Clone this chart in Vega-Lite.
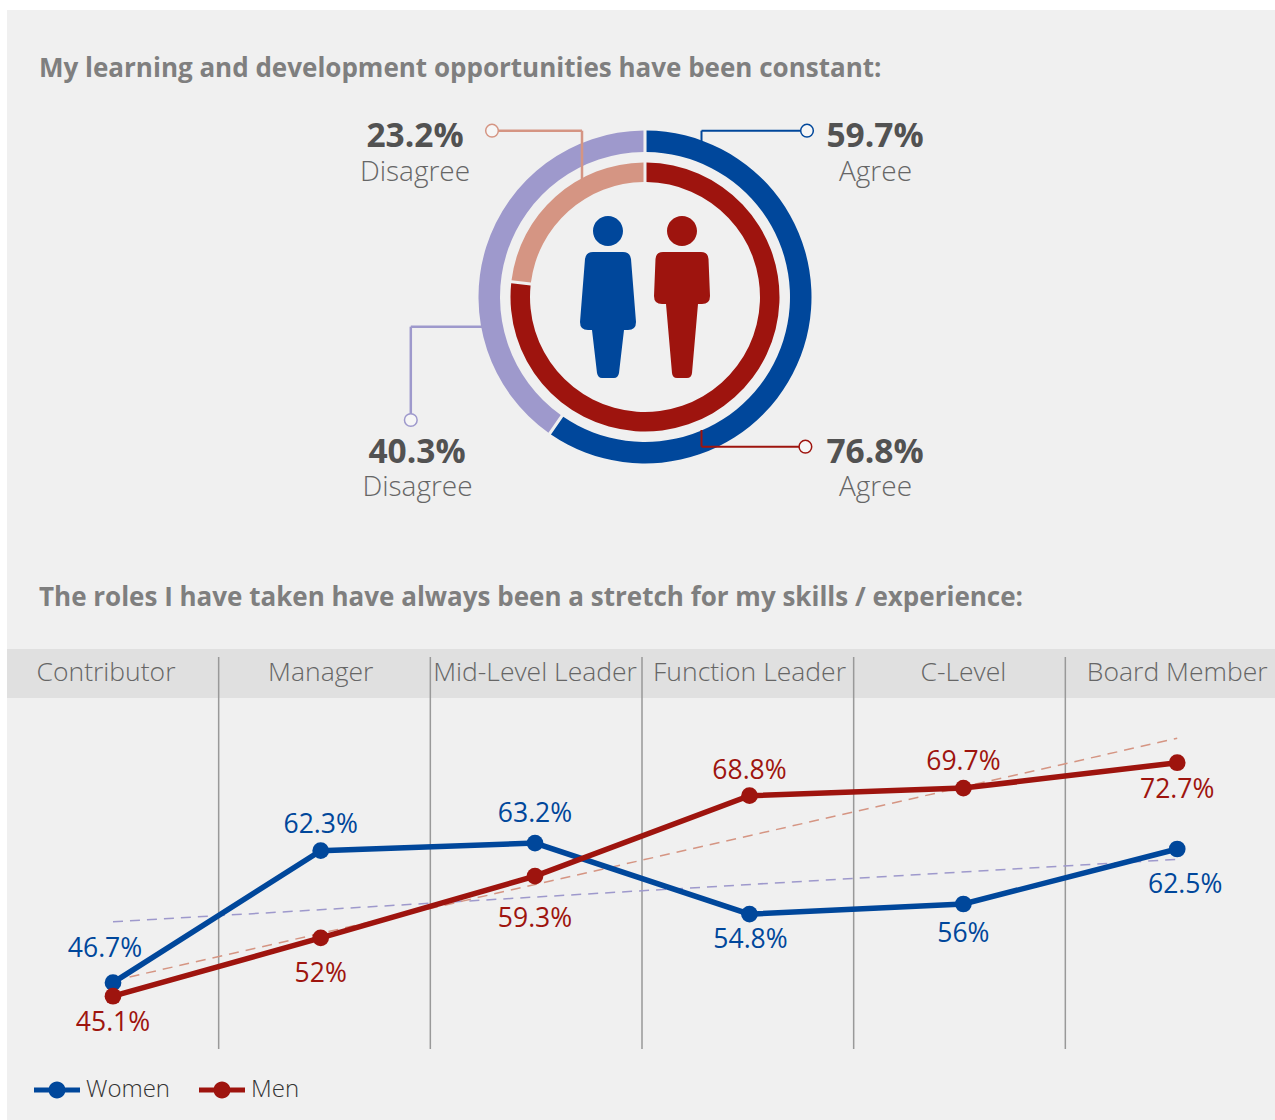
{"$schema":"https://vega.github.io/schema/vega-lite/v6.json","background":"#ffffff","padding":{"left":7,"top":10,"right":0,"bottom":0},"autosize":{"type":"pad"},"spacing":0,"resolve":{"scale":{"color":"independent"},"legend":{"color":"independent"}},"config":{"axis":{"disable":true},"view":{"stroke":null,"fill":"#f0f0f0"},"text":{"font":"Open Sans"},"legend":{"labelFont":"Open Sans"}},"datasets":{"rings":[{"gender":"Women","response":"Agree","segment":"Women Agree","share":59.7,"label":"59.7%"},{"gender":"Women","response":"Disagree","segment":"Women Disagree","share":40.3,"label":"40.3%"},{"gender":"Men","response":"Agree","segment":"Men Agree","share":76.8,"label":"76.8%"},{"gender":"Men","response":"Disagree","segment":"Men Disagree","share":23.2,"label":"23.2%"}],"roles":[{"role":"Contributor","rank":1},{"role":"Manager","rank":2},{"role":"Mid-Level Leader","rank":3},{"role":"Function Leader","rank":4},{"role":"C-Level","rank":5},{"role":"Board Member","rank":6}],"lines":[{"role":"Contributor","rank":1,"gender":"Women","value":46.7,"label":"46.7%"},{"role":"Manager","rank":2,"gender":"Women","value":62.3,"label":"62.3%"},{"role":"Mid-Level Leader","rank":3,"gender":"Women","value":63.2,"label":"63.2%"},{"role":"Function Leader","rank":4,"gender":"Women","value":54.8,"label":"54.8%"},{"role":"C-Level","rank":5,"gender":"Women","value":56,"label":"56%"},{"role":"Board Member","rank":6,"gender":"Women","value":62.5,"label":"62.5%"},{"role":"Contributor","rank":1,"gender":"Men","value":45.1,"label":"45.1%"},{"role":"Manager","rank":2,"gender":"Men","value":52,"label":"52%"},{"role":"Mid-Level Leader","rank":3,"gender":"Men","value":59.3,"label":"59.3%"},{"role":"Function Leader","rank":4,"gender":"Men","value":68.8,"label":"68.8%"},{"role":"C-Level","rank":5,"gender":"Men","value":69.7,"label":"69.7%"},{"role":"Board Member","rank":6,"gender":"Men","value":72.7,"label":"72.7%"}]},"vconcat":[{"width":1268,"height":639,"data":{"name":"rings"},"layer":[{"transform":[{"stack":"share","groupby":["gender"],"sort":[{"field":"response","order":"ascending"}],"as":["t0","t1"]},{"filter":"datum.gender==='Women'"}],"mark":{"type":"arc","radius":166.5,"radius2":145,"padAngle":0.014},"encoding":{"x":{"datum":0,"type":"quantitative","scale":{"domain":[-638,630],"nice":false,"zero":false}},"y":{"datum":0,"type":"quantitative","scale":{"domain":[-352,287],"nice":false,"zero":false}},"theta":{"field":"t0","type":"quantitative","stack":null,"scale":{"domain":[0,100],"range":[0,6.28318]}},"theta2":{"field":"t1"},"color":{"field":"segment","type":"nominal","legend":null,"scale":{"domain":["Women Agree","Women Disagree","Men Agree","Men Disagree"],"range":["#00479b","#9e99cc","#9e140e","#d59583"]}}}},{"transform":[{"stack":"share","groupby":["gender"],"sort":[{"field":"response","order":"ascending"}],"as":["t0","t1"]},{"filter":"datum.gender==='Men'"}],"mark":{"type":"arc","radius":134.5,"radius2":115,"padAngle":0.017},"encoding":{"x":{"datum":0,"type":"quantitative"},"y":{"datum":0,"type":"quantitative"},"theta":{"field":"t0","type":"quantitative","stack":null},"theta2":{"field":"t1"},"color":{"field":"segment","type":"nominal","legend":null}}},{"transform":[{"filter":"datum.segment==='Women Agree'"}],"layer":[{"mark":{"type":"point","filled":true,"size":4,"opacity":1,"color":"#00479b","shape":"M-15,-66 a15,15 0 1,0 30,0 a15,15 0 1,0 -30,0 Z M-15,-45 H15 Q22,-45 23,-38 L28,25 Q28,33 20,33 H16 L11,76 Q10,81 6,81 H-6 Q-10,81 -11,76 L-16,33 H-20 Q-28,33 -28,25 L-23,-38 Q-22,-45 -15,-45 Z"},"encoding":{"x":{"datum":-37,"type":"quantitative"},"y":{"datum":0,"type":"quantitative"}}},{"mark":{"type":"rule","color":"#00479b","strokeWidth":2},"encoding":{"x":{"datum":56.5,"type":"quantitative"},"y":{"datum":166.3,"type":"quantitative"},"y2":{"datum":155}}},{"mark":{"type":"rule","color":"#00479b","strokeWidth":2},"encoding":{"x":{"datum":56.5,"type":"quantitative"},"x2":{"datum":162},"y":{"datum":166.3,"type":"quantitative"}}},{"mark":{"type":"point","filled":true,"size":160,"opacity":1,"fill":"#f6f6f6","stroke":"#00479b","strokeWidth":1.5,"shape":"circle"},"encoding":{"x":{"datum":162,"type":"quantitative"},"y":{"datum":166.3,"type":"quantitative"}}},{"mark":{"type":"text","fontSize":33.5,"fontWeight":700,"color":"#525252","baseline":"middle"},"encoding":{"x":{"datum":230,"type":"quantitative"},"y":{"datum":160,"type":"quantitative"},"text":{"field":"label"}}},{"mark":{"type":"text","fontSize":28,"fontWeight":300,"color":"#666666","baseline":"middle"},"encoding":{"x":{"datum":230.5,"type":"quantitative"},"y":{"datum":124,"type":"quantitative"},"text":{"field":"response"}}}]},{"transform":[{"filter":"datum.segment==='Men Disagree'"}],"layer":[{"mark":{"type":"point","filled":true,"size":4,"opacity":1,"color":"#9e140e","shape":"M-15,-66 a15,15 0 1,0 30,0 a15,15 0 1,0 -30,0 Z M-19,-45 H19 Q26,-45 26.5,-38 L28,-1 Q28,7 20,7 H16 L10,76 Q9.5,81 5,81 H-5 Q-9.5,81 -10,76 L-16,7 H-20 Q-28,7 -28,-1 L-26.5,-38 Q-26,-45 -19,-45 Z"},"encoding":{"x":{"datum":37,"type":"quantitative"},"y":{"datum":0,"type":"quantitative"}}},{"mark":{"type":"rule","color":"#d59583","strokeWidth":2.5},"encoding":{"x":{"datum":-63,"type":"quantitative"},"y":{"datum":166.3,"type":"quantitative"},"y2":{"datum":117}}},{"mark":{"type":"rule","color":"#d59583","strokeWidth":2.5},"encoding":{"x":{"datum":-153,"type":"quantitative"},"x2":{"datum":-63},"y":{"datum":166.3,"type":"quantitative"}}},{"mark":{"type":"point","filled":true,"size":160,"opacity":1,"fill":"#f6f6f6","stroke":"#d59583","strokeWidth":1.5,"shape":"circle"},"encoding":{"x":{"datum":-153,"type":"quantitative"},"y":{"datum":166.3,"type":"quantitative"}}},{"mark":{"type":"text","fontSize":33.5,"fontWeight":700,"color":"#525252","baseline":"middle"},"encoding":{"x":{"datum":-230,"type":"quantitative"},"y":{"datum":160,"type":"quantitative"},"text":{"field":"label"}}},{"mark":{"type":"text","fontSize":28,"fontWeight":300,"color":"#666666","baseline":"middle"},"encoding":{"x":{"datum":-230,"type":"quantitative"},"y":{"datum":124,"type":"quantitative"},"text":{"field":"response"}}}]},{"transform":[{"filter":"datum.segment==='Women Disagree'"}],"layer":[{"mark":{"type":"rule","color":"#9e99cc","strokeWidth":2.5},"encoding":{"x":{"datum":-234.2,"type":"quantitative"},"y":{"datum":-29.7,"type":"quantitative"},"y2":{"datum":-123}}},{"mark":{"type":"rule","color":"#9e99cc","strokeWidth":2.5},"encoding":{"x":{"datum":-234.2,"type":"quantitative"},"x2":{"datum":-163},"y":{"datum":-29.7,"type":"quantitative"}}},{"mark":{"type":"point","filled":true,"size":160,"opacity":1,"fill":"#f6f6f6","stroke":"#9e99cc","strokeWidth":1.5,"shape":"circle"},"encoding":{"x":{"datum":-234.2,"type":"quantitative"},"y":{"datum":-123,"type":"quantitative"}}},{"mark":{"type":"text","fontSize":33.5,"fontWeight":700,"color":"#525252","baseline":"middle"},"encoding":{"x":{"datum":-228,"type":"quantitative"},"y":{"datum":-156,"type":"quantitative"},"text":{"field":"label"}}},{"mark":{"type":"text","fontSize":28,"fontWeight":300,"color":"#666666","baseline":"middle"},"encoding":{"x":{"datum":-227.5,"type":"quantitative"},"y":{"datum":-191,"type":"quantitative"},"text":{"field":"response"}}}]},{"transform":[{"filter":"datum.segment==='Men Agree'"}],"layer":[{"mark":{"type":"rule","color":"#9e140e","strokeWidth":2},"encoding":{"x":{"datum":56.5,"type":"quantitative"},"y":{"datum":-133,"type":"quantitative"},"y2":{"datum":-149.7}}},{"mark":{"type":"rule","color":"#9e140e","strokeWidth":2},"encoding":{"x":{"datum":56.5,"type":"quantitative"},"x2":{"datum":160.4},"y":{"datum":-149.7,"type":"quantitative"}}},{"mark":{"type":"point","filled":true,"size":160,"opacity":1,"fill":"#f6f6f6","stroke":"#9e140e","strokeWidth":1.5,"shape":"circle"},"encoding":{"x":{"datum":160.4,"type":"quantitative"},"y":{"datum":-149.7,"type":"quantitative"}}},{"mark":{"type":"text","fontSize":33.5,"fontWeight":700,"color":"#525252","baseline":"middle"},"encoding":{"x":{"datum":230,"type":"quantitative"},"y":{"datum":-156,"type":"quantitative"},"text":{"field":"label"}}},{"mark":{"type":"text","fontSize":28,"fontWeight":300,"color":"#666666","baseline":"middle"},"encoding":{"x":{"datum":230.5,"type":"quantitative"},"y":{"datum":-191,"type":"quantitative"},"text":{"field":"response"}}}]},{"data":{"values":[{"title":"My learning and development opportunities have been constant:"}]},"mark":{"type":"text","align":"left","baseline":"middle","fontSize":26,"fontWeight":700,"color":"#7f7f7f"},"encoding":{"x":{"datum":-606,"type":"quantitative"},"y":{"datum":228,"type":"quantitative"},"text":{"field":"title"}}},{"data":{"values":[{"title":"The roles I have taken have always been a stretch for my skills / experience:"}]},"mark":{"type":"text","align":"left","baseline":"middle","fontSize":26,"fontWeight":700,"color":"#7f7f7f"},"encoding":{"x":{"datum":-606,"type":"quantitative"},"y":{"datum":-301,"type":"quantitative"},"text":{"field":"title"}}}]},{"width":1268,"height":471,"resolve":{"scale":{"x":"independent"}},"layer":[{"data":{"values":[{"band":"Role level"}]},"mark":{"type":"rect","color":"#e0e0e0"},"encoding":{"y":{"datum":86.14,"type":"quantitative","scale":{"domain":[30.47,86.14],"nice":false,"zero":false}},"y2":{"datum":80.35}}},{"data":{"name":"roles"},"transform":[{"filter":"datum.rank>1"}],"mark":{"type":"rule","color":"#999999","strokeWidth":1.5},"encoding":{"x":{"field":"role","type":"nominal","bandPosition":0,"scale":{"type":"band","domain":["Contributor","Manager","Mid-Level Leader","Function Leader","C-Level","Board Member"],"range":[0,1270],"paddingInner":0,"paddingOuter":0}},"y":{"datum":85.2,"type":"quantitative"},"y2":{"datum":38.87}}},{"layer":[{"data":{"name":"roles"},"transform":[{"filter":"datum.rank>1"}],"mark":{"type":"text","fontSize":26.5,"fontWeight":300,"color":"#666666","baseline":"middle"},"encoding":{"x":{"field":"rank","type":"quantitative","scale":{"type":"linear","domain":[1,2,3,4,5,6],"range":[106,313.7,528,742.5,956.4,1170.2],"nice":false,"zero":false}},"y":{"datum":83.33,"type":"quantitative"},"text":{"field":"role"}}},{"data":{"name":"roles"},"transform":[{"filter":"datum.rank===1"}],"mark":{"type":"text","fontSize":26.5,"fontWeight":300,"color":"#666666","baseline":"middle","dx":-7},"encoding":{"x":{"field":"rank","type":"quantitative"},"y":{"datum":83.33,"type":"quantitative"},"text":{"field":"role"}}},{"data":{"name":"lines"},"encoding":{"x":{"field":"rank","type":"quantitative"},"y":{"field":"value","type":"quantitative"}},"layer":[{"transform":[{"filter":"datum.gender==='Women'"},{"regression":"value","on":"rank"}],"mark":{"type":"line","color":"#9e99cc","strokeWidth":1.5,"strokeDash":[10,7]}},{"transform":[{"filter":"datum.gender==='Men'"},{"regression":"value","on":"rank"}],"mark":{"type":"line","color":"#d59583","strokeWidth":1.5,"strokeDash":[10,7]}},{"encoding":{"color":{"field":"gender","type":"nominal","title":null,"scale":{"domain":["Women","Men"],"range":["#00479b","#9e140e"]},"legend":{"orient":"none","legendX":27,"legendY":418,"direction":"horizontal","columns":2,"padding":0,"columnPadding":28,"labelOffset":6,"labelFontSize":24,"labelFontWeight":300,"labelColor":"#333333","symbolSize":2116,"symbolStrokeWidth":0,"symbolType":"M-1,-.11 H1 V.11 H-1 Z M-.37,0 A.37,.37 0 1,1 .37,0 A.37,.37 0 1,1 -.37,0 Z"}}},"layer":[{"mark":{"type":"line","strokeWidth":5.5}},{"mark":{"type":"point","filled":true,"opacity":1,"size":280,"shape":"circle"}},{"encoding":{"text":{"field":"label"}},"layer":[{"transform":[{"filter":"datum.label==='46.7%'"}],"mark":{"type":"text","fontSize":26.5,"baseline":"middle","dx":-8,"dy":-34}},{"transform":[{"filter":"datum.label==='62.3%'"}],"mark":{"type":"text","fontSize":26.5,"baseline":"middle","dy":-26}},{"transform":[{"filter":"datum.label==='63.2%'"}],"mark":{"type":"text","fontSize":26.5,"baseline":"middle","dy":-29}},{"transform":[{"filter":"datum.label==='54.8%'"}],"mark":{"type":"text","fontSize":26.5,"baseline":"middle","dx":1,"dy":26}},{"transform":[{"filter":"datum.label==='56%'"}],"mark":{"type":"text","fontSize":26.5,"baseline":"middle","dy":30}},{"transform":[{"filter":"datum.label==='62.5%'"}],"mark":{"type":"text","fontSize":26.5,"baseline":"middle","dx":8,"dy":36}},{"transform":[{"filter":"datum.label==='45.1%'"}],"mark":{"type":"text","fontSize":26.5,"baseline":"middle","dy":27}},{"transform":[{"filter":"datum.label==='52%'"}],"mark":{"type":"text","fontSize":26.5,"baseline":"middle","dy":36}},{"transform":[{"filter":"datum.label==='59.3%'"}],"mark":{"type":"text","fontSize":26.5,"baseline":"middle","dy":43}},{"transform":[{"filter":"datum.label==='68.8%'"}],"mark":{"type":"text","fontSize":26.5,"baseline":"middle","dy":-25}},{"transform":[{"filter":"datum.label==='69.7%'"}],"mark":{"type":"text","fontSize":26.5,"baseline":"middle","dy":-26}},{"transform":[{"filter":"datum.label==='72.7%'"}],"mark":{"type":"text","fontSize":26.5,"baseline":"middle","dy":27}}]}]}]}]}]}]}
